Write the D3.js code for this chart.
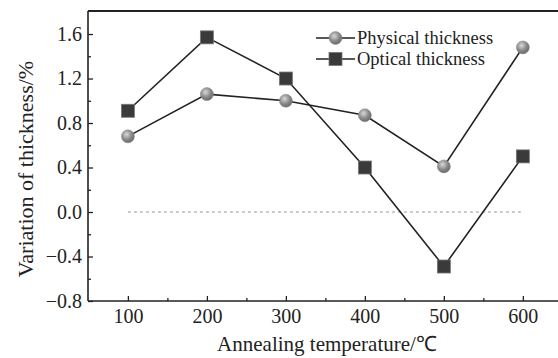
<!DOCTYPE html>
<html><head><meta charset="utf-8">
<script src="https://cdn.jsdelivr.net/npm/d3@7/dist/d3.min.js"></script>
<style>
html,body{margin:0;padding:0;background:#fff;}
svg{display:block;font-family:"Liberation Serif","Times New Roman",serif;}
</style></head>
<body>
<svg id="chart" width="558" height="358"></svg>
<script>
const temperatures = [100, 200, 300, 400, 500, 600];
const physical = [0.68, 1.06, 1.00, 0.87, 0.41, 1.48];
const optical = [0.91, 1.57, 1.20, 0.40, -0.49, 0.50];
const seriesNames = ["Physical thickness", "Optical thickness"];
const xTicks = [100, 200, 300, 400, 500, 600];
const xMinor = [150, 250, 350, 450, 550];
const yTicks = [-0.8, -0.4, 0.0, 0.4, 0.8, 1.2, 1.6];
const yMinor = [-0.6, -0.2, 0.2, 0.6, 1.0, 1.4];

const svg = d3.select("#chart");
const L = 88, R = 558, T = 11, B = 301;
const x = d3.scaleLinear().domain([49.5, 644.5]).range([L, R]);
const y = d3.scaleLinear().domain([-0.8, 1.807]).range([B, T]);

const defs = svg.append("defs");
const grad = defs.append("radialGradient").attr("id","ball").attr("cx","40%").attr("cy","35%").attr("r","65%");
grad.append("stop").attr("offset","0%").attr("stop-color","#d8d8d8");
grad.append("stop").attr("offset","60%").attr("stop-color","#8a8a8a");
grad.append("stop").attr("offset","100%").attr("stop-color","#6a6a6a");

// zero dashed line
svg.append("line").attr("x1", x(100)).attr("x2", x(600)).attr("y1", y(0)).attr("y2", y(0))
  .attr("stroke","#999").attr("stroke-width",1).attr("stroke-dasharray","3,3");

// top border
svg.append("line").attr("x1", L).attr("x2", R).attr("y1", T).attr("y2", T).attr("stroke","#222").attr("stroke-width",2);

// axes
const xAxis = d3.axisBottom(x).tickValues(xTicks).tickSize(-5).tickPadding(8).tickFormat(d3.format("d"));
const gx = svg.append("g").attr("transform",`translate(0,${B})`).call(xAxis);
svg.append("g").attr("transform",`translate(0,${B})`)
  .call(d3.axisBottom(x).tickValues(xMinor).tickSize(-3).tickFormat(""))
  .call(g=>g.select(".domain").remove());
const yAxis = d3.axisLeft(y).tickValues(yTicks).tickSize(-5).tickPadding(6)
  .tickFormat(d => (d < 0 ? "\u2212" : "") + Math.abs(d).toFixed(1));
const gy = svg.append("g").attr("transform",`translate(${L},0)`).call(yAxis);
svg.append("g").attr("transform",`translate(${L},0)`)
  .call(d3.axisLeft(y).tickValues(yMinor).tickSize(-3).tickFormat(""))
  .call(g=>g.select(".domain").remove());

svg.selectAll(".domain").attr("stroke","#222").attr("stroke-width",1.6);
svg.selectAll(".tick line").attr("stroke","#222").attr("stroke-width",1.3);
svg.selectAll(".tick text").attr("font-size",20).attr("fill","#222")
  .attr("font-family",'"Liberation Serif","Times New Roman",serif');
gx.select(".domain").attr("d", `M${L},0H${R}`);
gy.select(".domain").attr("d", `M0,${B}V${T}`);

// lines
const line = d3.line().x((d,i)=>x(temperatures[i])).y(d=>y(d));
svg.append("path").datum(physical).attr("d", line).attr("fill","none").attr("stroke","#222").attr("stroke-width",1.6);
svg.append("path").datum(optical).attr("d", line).attr("fill","none").attr("stroke","#222").attr("stroke-width",1.6);

const S = 13;
svg.append("g").selectAll("rect").data(optical).join("rect")
  .attr("x",(d,i)=>x(temperatures[i])-S/2).attr("y",d=>y(d)-S/2).attr("width",S).attr("height",S)
  .attr("fill","#3a3a3a").attr("stroke","#777").attr("stroke-width",0.8);
svg.append("g").selectAll("circle").data(physical).join("circle")
  .attr("cx",(d,i)=>x(temperatures[i])).attr("cy",d=>y(d)).attr("r",6.5)
  .attr("fill","url(#ball)").attr("stroke","#8a8a8a").attr("stroke-width",0.5);

// legend
const lg = svg.append("g");
const rows = [{name: seriesNames[0], type:"circle", y:38},{name: seriesNames[1], type:"rect", y:59}];
rows.forEach(r=>{
  lg.append("line").attr("x1",316).attr("x2",355).attr("y1",r.y).attr("y2",r.y).attr("stroke","#222").attr("stroke-width",1.6);
  if(r.type==="circle"){
    lg.append("circle").attr("cx",335.5).attr("cy",r.y).attr("r",6.5).attr("fill","url(#ball)").attr("stroke","#8a8a8a").attr("stroke-width",0.5);
  } else {
    lg.append("rect").attr("x",335.5-S/2).attr("y",r.y-S/2).attr("width",S).attr("height",S).attr("fill","#3a3a3a").attr("stroke","#777").attr("stroke-width",0.8);
  }
  lg.append("text").attr("x",357).attr("y",r.y+6).attr("font-size",18.5).attr("fill","#222").text(r.name);
});

// axis titles
svg.append("text").attr("x",327).attr("y",351).attr("text-anchor","middle").attr("font-size",21).attr("fill","#222")
  .text("Annealing temperature/\u2103");
svg.append("text").attr("transform",`translate(33,169) rotate(-90)`).attr("text-anchor","middle")
  .attr("font-size",22).attr("fill","#222").text("Variation of thickness/%");
</script>
</body></html>
